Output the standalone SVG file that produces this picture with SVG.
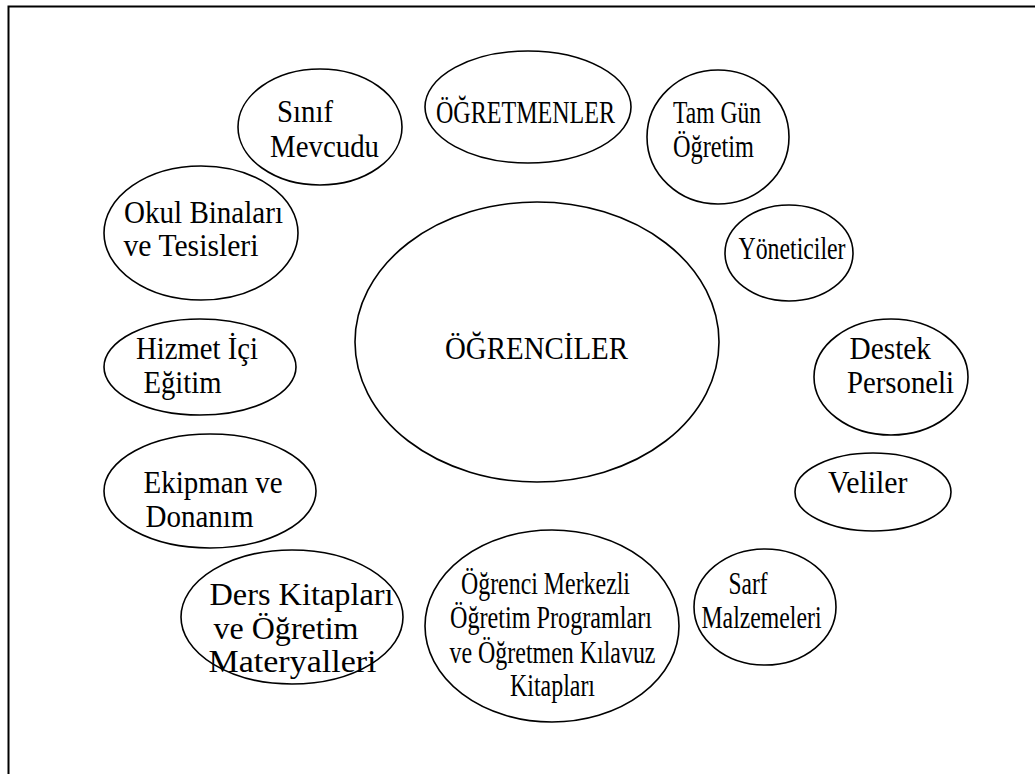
<svg xmlns="http://www.w3.org/2000/svg" width="1035" height="774" viewBox="0 0 1035 774">
<style>
.frame{fill:none;stroke:#000;stroke-width:2}
.n{fill:#fff;stroke:#000;stroke-width:1.6}
.t{font-family:"Liberation Serif","Times New Roman",serif;font-size:31px;fill:#000}
</style>
<rect class="frame" x="8.5" y="6.5" width="1100" height="900"/>
<g id="connectors"></g>
<g id="n-ogrenciler">
<ellipse class="n" cx="537" cy="342" rx="182" ry="140"/>
<text class="t" x="445" y="359" textLength="183" lengthAdjust="spacingAndGlyphs">ÖĞRENCİLER</text>
</g>
<g id="n-sinif">
<ellipse class="n" cx="320" cy="127" rx="82" ry="58"/>
<text class="t" x="277" y="122" textLength="56" lengthAdjust="spacingAndGlyphs">Sınıf</text>
<text class="t" x="270" y="156.5" textLength="109" lengthAdjust="spacingAndGlyphs">Mevcudu</text>
</g>
<g id="n-ogretmenler">
<ellipse class="n" cx="528" cy="107" rx="103" ry="56"/>
<text class="t" x="436" y="123" textLength="179" lengthAdjust="spacingAndGlyphs">ÖĞRETMENLER</text>
</g>
<g id="n-tamgun">
<ellipse class="n" cx="718" cy="137" rx="71" ry="67"/>
<text class="t" x="673" y="123" textLength="88" lengthAdjust="spacingAndGlyphs">Tam Gün</text>
<text class="t" x="673" y="156.5" textLength="81" lengthAdjust="spacingAndGlyphs">Öğretim</text>
</g>
<g id="n-okul">
<ellipse class="n" cx="201" cy="233" rx="97" ry="67"/>
<text class="t" x="124" y="223" textLength="159" lengthAdjust="spacingAndGlyphs">Okul Binaları</text>
<text class="t" x="123.5" y="255.5" textLength="135" lengthAdjust="spacingAndGlyphs">ve Tesisleri</text>
</g>
<g id="n-yoneticiler">
<ellipse class="n" cx="789" cy="253" rx="64" ry="48"/>
<text class="t" x="738.5" y="258.5" textLength="107" lengthAdjust="spacingAndGlyphs">Yöneticiler</text>
</g>
<g id="n-hizmet">
<ellipse class="n" cx="200" cy="367" rx="96" ry="48"/>
<text class="t" x="136" y="359" textLength="122" lengthAdjust="spacingAndGlyphs">Hizmet İçi</text>
<text class="t" x="143.5" y="393" textLength="78" lengthAdjust="spacingAndGlyphs">Eğitim</text>
</g>
<g id="n-destek">
<ellipse class="n" cx="891" cy="377" rx="77" ry="58"/>
<text class="t" x="849.5" y="359" textLength="81.5" lengthAdjust="spacingAndGlyphs">Destek</text>
<text class="t" x="847" y="392.5" textLength="107" lengthAdjust="spacingAndGlyphs">Personeli</text>
</g>
<g id="n-ekipman">
<ellipse class="n" cx="210" cy="491" rx="106" ry="57"/>
<text class="t" x="143.5" y="493" textLength="139" lengthAdjust="spacingAndGlyphs">Ekipman ve</text>
<text class="t" x="145.5" y="527" textLength="108" lengthAdjust="spacingAndGlyphs">Donanım</text>
</g>
<g id="n-veliler">
<ellipse class="n" cx="873" cy="492" rx="78" ry="39"/>
<text class="t" x="828" y="493" textLength="79.5" lengthAdjust="spacingAndGlyphs">Veliler</text>
</g>
<g id="n-ders">
<ellipse class="n" cx="292" cy="617" rx="111" ry="67"/>
<text class="t" x="209.5" y="605" textLength="184" lengthAdjust="spacingAndGlyphs">Ders Kitapları</text>
<text class="t" x="213.5" y="638.5" textLength="145" lengthAdjust="spacingAndGlyphs">ve Öğretim</text>
<text class="t" x="208.5" y="671.5" textLength="168" lengthAdjust="spacingAndGlyphs">Materyalleri</text>
</g>
<g id="n-merkezli">
<ellipse class="n" cx="552" cy="626" rx="127" ry="96"/>
<text class="t" x="461" y="594" textLength="169" lengthAdjust="spacingAndGlyphs">Öğrenci Merkezli</text>
<text class="t" x="450" y="628" textLength="202" lengthAdjust="spacingAndGlyphs">Öğretim Programları</text>
<text class="t" x="449.5" y="662.5" textLength="206" lengthAdjust="spacingAndGlyphs">ve Öğretmen Kılavuz</text>
<text class="t" x="510" y="696" textLength="85" lengthAdjust="spacingAndGlyphs">Kitapları</text>
</g>
<g id="n-sarf">
<ellipse class="n" cx="765" cy="607" rx="71" ry="58"/>
<text class="t" x="728.5" y="594" textLength="39" lengthAdjust="spacingAndGlyphs">Sarf</text>
<text class="t" x="701.5" y="628" textLength="120" lengthAdjust="spacingAndGlyphs">Malzemeleri</text>
</g>
</svg>
